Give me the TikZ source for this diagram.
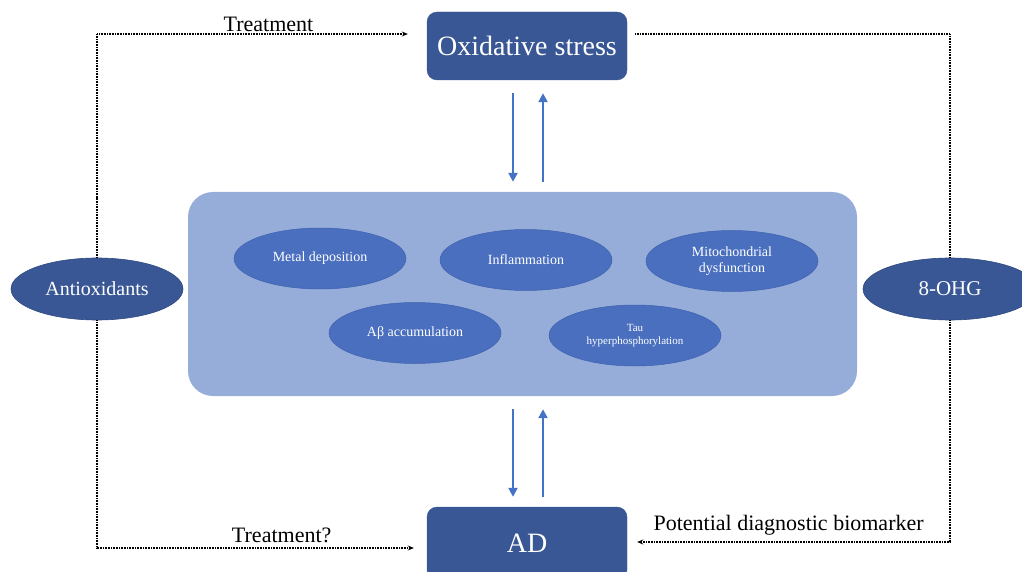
\documentclass[tikz,border=0pt]{standalone}
\usepackage{fontspec}
\setmainfont{Liberation Serif}
\usetikzlibrary{shapes.geometric,arrows.meta}
\definecolor{darkblue}{HTML}{3A5795}
\definecolor{darkedge}{HTML}{2E4A82}
\definecolor{panel}{HTML}{97ADD9}
\definecolor{midblue}{HTML}{4A6FBF}
\definecolor{midedge}{HTML}{3F62AE}
\definecolor{arrblue}{HTML}{4472C4}
\tikzset{
  bigbox/.style={rectangle, rounded corners=10pt, fill=darkblue, draw=darkblue, text=white,
    minimum width=200pt, inner sep=0pt, font=\fontsize{28}{32}\selectfont},
  outerell/.style={ellipse, fill=darkblue, draw=darkedge, line width=0.6pt, text=white,
    inner sep=0pt},
  innerell/.style={ellipse, fill=midblue, draw=midedge, line width=0.5pt, text=white,
    minimum width=172pt, minimum height=61pt, inner sep=0pt, align=center,
    font=\fontsize{14}{16}\selectfont},
  arr/.style={draw=arrblue, line width=2.2pt, -{Triangle[width=9pt,length=9pt]}},
  dotln/.style={draw=black, line width=1.1pt, dash pattern=on 1pt off 0.6pt},
  dotarr/.style={dotln, -{Stealth[length=6pt,width=5pt]}},
  lbl/.style={font=\fontsize{22}{26}\selectfont, inner sep=0pt}
}
\begin{document}
\begin{tikzpicture}[x=1pt,y=-1pt]
\useasboundingbox (0,0) rectangle (1022,572);
\clip (0,0) rectangle (1022,572);
% panel
\node[rectangle, rounded corners=25pt, fill=panel, minimum width=669pt, minimum height=204pt,
  inner sep=0pt] (mid) at (522.5,294) {};
% boxes
\node[bigbox, minimum height=68pt] (ox) at (527,46) {Oxidative stress};
\node[bigbox, minimum height=73pt] (ad) at (527,543.5) {AD};
% outer ellipses
\node[outerell, minimum width=172pt, minimum height=62pt, font=\fontsize{20}{24}\selectfont]
  (anti) at (97,289) {Antioxidants};
\node[outerell, minimum width=174pt, minimum height=62pt, font=\fontsize{21}{24}\selectfont]
  (ohg) at (950,289) {8-OHG};
% inner ellipses
\node[innerell] (metal) at (320,258.5) {Metal deposition};
\node[innerell] (infl) at (526,260) {Inflammation};
\node[innerell] (mito) at (732,261) {Mitochondrial\\dysfunction};
\node[innerell] (abeta) at (415,333) {Aβ accumulation};
\node[innerell, font=\fontsize{11}{13}\selectfont] (tau) at (635,335.5) {Tau\\hyperphosphorylation};
% blue arrows
\draw[arr, shorten <=13pt, shorten >=10pt] ([xshift=-14pt]ox.south) -- ([xshift=-14pt]ox.south |- mid.north);
\draw[arr, shorten <=10pt, shorten >=13pt] ([xshift=16pt]ox.south |- mid.north) -- ([xshift=16pt]ox.south);
\draw[arr, shorten <=13pt, shorten >=10pt] ([xshift=-14pt]ad.north |- mid.south) -- ([xshift=-14pt]ad.north);
\draw[arr, shorten <=10pt, shorten >=13pt] ([xshift=16pt]ad.north) -- ([xshift=16pt]ad.north |- mid.south);
% dotted connectors
\draw[dotarr, shorten >=19pt] (anti.north) |- ([yshift=12pt]ox.west)
  node[lbl, pos=0.76, anchor=south, yshift=2pt] {Treatment};
\draw[dotarr, shorten >=13pt] (anti.south) |- ([yshift=-4.5pt]ad.west)
  node[lbl, pos=0.78, anchor=south, yshift=5pt] {Treatment?};
\draw[dotln, shorten <=8pt] ([yshift=12pt]ox.east) -| (ohg.north);
\draw[dotarr, shorten >=10pt] (ohg.south) |- ([yshift=1.5pt]ad.east)
  node[lbl, pos=0.75, anchor=south, yshift=6pt] {Potential diagnostic biomarker};
\end{tikzpicture}
\end{document}
